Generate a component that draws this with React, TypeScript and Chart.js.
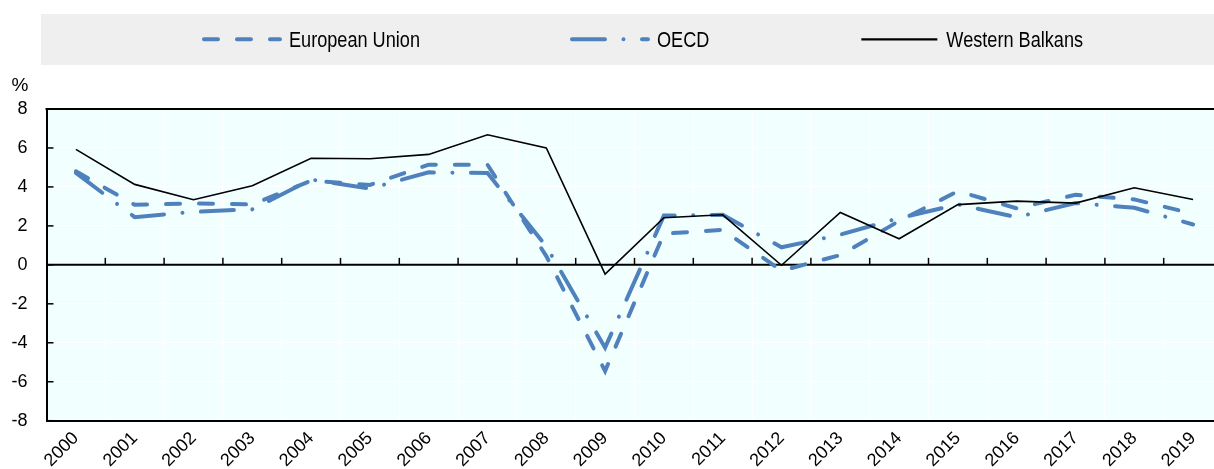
import React, { useEffect, useRef } from "react";
import { Chart, registerables } from "chart.js";

Chart.register(...registerables);

const years = ["2000", "2001", "2002", "2003", "2004", "2005", "2006", "2007", "2008", "2009", "2010", "2011", "2012", "2013", "2014", "2015", "2016", "2017", "2018", "2019"];
const euValues = [4.8, 3.08, 3.15, 3.1, 4.32, 4.1, 5.14, 5.14, 0.45, -5.45, 1.6, 1.8, -0.3, 0.5, 2.25, 3.78, 2.9, 3.6, 3.36, 2.62];
const oecdValues = [4.72, 2.45, 2.72, 2.85, 4.38, 3.92, 4.75, 4.71, 0.95, -4.25, 2.53, 2.57, 0.9, 1.55, 2.4, 3.1, 2.45, 3.17, 2.93, 2.07];
const wbValues = [5.93, 4.13, 3.34, 4.06, 5.47, 5.45, 5.67, 6.68, 6.0, -0.48, 2.42, 2.57, -0.02, 2.69, 1.34, 3.09, 3.27, 3.17, 3.96, 3.35];
const seriesLabels = ["European Union", "OECD", "Western Balkans"];
const yMin = -8;
const yMax = 8;
const yStep = 2;
const unitLabel = "%";

const BLUE = "#4F81BD";
const TICK_FONT = "'Liberation Sans', Arial, sans-serif";
const LEGEND_FONT = "'Liberation Sans', Arial, sans-serif";
const LEGEND_CONDENSE = 0.824;

const backgroundPlugin = {
  id: "bg",
  beforeDraw(chart: any) {
    const { ctx, chartArea } = chart;
    ctx.save();
    ctx.fillStyle = "#ffffff";
    ctx.fillRect(0, 0, chart.width, chart.height);
    ctx.fillStyle = "#F2FFFF";
    ctx.fillRect(chartArea.left, chartArea.top, chartArea.right - chartArea.left, chartArea.bottom - chartArea.top);
    ctx.restore();
  },
};

const decorPlugin = {
  id: "decor",
  beforeDatasetsDraw(chart: any) {
    const { ctx, chartArea, scales } = chart;
    const x = scales.x;
    const y = scales.y;
    const y0 = y.getPixelForValue(0);
    ctx.save();
    ctx.strokeStyle = "#000";
    ctx.lineWidth = 2;
    ctx.beginPath();
    ctx.moveTo(chartArea.left, y0);
    ctx.lineTo(chartArea.right, y0);
    ctx.stroke();
    ctx.beginPath();
    ctx.moveTo(chartArea.left - 1, chartArea.top);
    ctx.lineTo(chartArea.right, chartArea.top);
    ctx.stroke();
    ctx.lineWidth = 1.5;
    const n = chart.data.labels.length;
    const step = x.getPixelForValue(1) - x.getPixelForValue(0);
    for (let i = 1; i <= n; i++) {
      const px = x.getPixelForValue(i - 1) + step / 2;
      ctx.beginPath();
      ctx.moveTo(px, y0 - 7);
      ctx.lineTo(px, y0);
      ctx.stroke();
    }
    for (const t of y.ticks) {
      const py = y.getPixelForValue(t.value);
      ctx.beginPath();
      ctx.moveTo(chartArea.left, py);
      ctx.lineTo(chartArea.left + 7, py);
      ctx.stroke();
    }
    ctx.fillStyle = "#000";
    ctx.font = "19px " + TICK_FONT;
    ctx.textAlign = "center";
    ctx.textBaseline = "alphabetic";
    ctx.fillText(unitLabel, 20, 91);
    ctx.restore();
  },
};

const legendPlugin = {
  id: "customLegend",
  afterDraw(chart: any) {
    const { ctx } = chart;
    const boxLeft = 41;
    const boxRight = 1242;
    const boxTop = 14;
    const boxBottom = 65;
    const lineY = 39.3;
    const textBase = 47;
    const symbolW = 76;
    const capPad = 2;
    const gap = 9;
    const itemGap = 152;
    ctx.save();
    ctx.fillStyle = "#EFEFEF";
    ctx.fillRect(boxLeft, boxTop, boxRight - boxLeft, boxBottom - boxTop);
    ctx.font = "22px " + LEGEND_FONT;
    const datasets = chart.data.datasets;
    const textW = datasets.map((d: any) => ctx.measureText(d.label).width * LEGEND_CONDENSE);
    const widths = textW.map((w: number) => symbolW + gap + w);
    const total = widths.reduce((a: number, b: number) => a + b, 0) + itemGap * (datasets.length - 1);
    let cx = (boxLeft + boxRight) / 2 - total / 2 + capPad;
    datasets.forEach((d: any, i: number) => {
      ctx.save();
      ctx.strokeStyle = d.borderColor;
      ctx.lineWidth = d.legendLineWidth || d.borderWidth;
      ctx.lineCap = d.borderCapStyle || "butt";
      ctx.setLineDash(d.borderDash || []);
      ctx.beginPath();
      ctx.moveTo(cx, lineY);
      ctx.lineTo(cx + symbolW, lineY);
      ctx.stroke();
      ctx.restore();
      ctx.save();
      ctx.fillStyle = "#000";
      ctx.textAlign = "left";
      ctx.textBaseline = "alphabetic";
      ctx.translate(cx + symbolW + gap, textBase);
      ctx.scale(LEGEND_CONDENSE, 1);
      ctx.fillText(d.label, 0, 0);
      ctx.restore();
      cx += widths[i] + itemGap;
    });
    ctx.restore();
  },
};

export default function App() {
  const canvasRef = useRef<HTMLCanvasElement | null>(null);

  useEffect(() => {
    const canvas = canvasRef.current;
    if (!canvas) return;
    const chart = new Chart(canvas, {
      type: "line",
      data: {
        labels: years,
        datasets: [
          {
            label: seriesLabels[0],
            data: euValues,
            borderColor: BLUE,
            borderWidth: 4,
            borderDash: [14, 19],
            borderCapStyle: "round",
            pointRadius: 0,
            tension: 0,
            fill: false,
            order: 1,
          },
          {
            label: seriesLabels[1],
            data: oecdValues,
            borderColor: BLUE,
            borderWidth: 4,
            borderDash: [33, 18.5, 0.01, 18.5],
            borderCapStyle: "round",
            pointRadius: 0,
            tension: 0,
            fill: false,
            order: 2,
          },
          {
            label: seriesLabels[2],
            data: wbValues,
            borderColor: "#000000",
            borderWidth: 1.6,
            legendLineWidth: 2.2,
            pointRadius: 0,
            tension: 0,
            fill: false,
            order: 0,
          } as any,
        ],
      },
      options: {
        responsive: false,
        animation: false,
        devicePixelRatio: 1,
        layout: { padding: { top: 109, left: 0, right: 22.5, bottom: 0 } },
        plugins: {
          legend: { display: false },
          tooltip: { enabled: false },
        },
        scales: {
          x: {
            offset: true,
            grid: { offset: true, color: "#ffffff", lineWidth: 1, drawTicks: false },
            border: { display: true, color: "#000000", width: 2 },
            ticks: {
              font: { family: TICK_FONT, size: 18 },
              color: "#000",
              maxRotation: 45,
              minRotation: 45,
              autoSkip: false,
              padding: 7,
            },
            afterFit: (s: any) => {
              s.height = 48.3;
            },
          },
          y: {
            min: yMin,
            max: yMax,
            ticks: {
              stepSize: yStep,
              font: { family: TICK_FONT, size: 18 },
              color: "#000",
              padding: 19,
            },
            grid: { color: "#ffffff", lineWidth: 1, drawTicks: false },
            border: { display: true, color: "#000000", width: 2 },
            afterFit: (s: any) => {
              s.width = 46.5;
            },
          },
        },
      },
      plugins: [backgroundPlugin, decorPlugin, legendPlugin],
    });
    return () => chart.destroy();
  }, []);

  return (
    <div style={{ position: "absolute", left: 0, top: 0, width: 1214, height: 469, overflow: "hidden", background: "#fff" }}>
      <canvas ref={canvasRef} width={1245} height={469} style={{ display: "block" }} />
    </div>
  );
}
